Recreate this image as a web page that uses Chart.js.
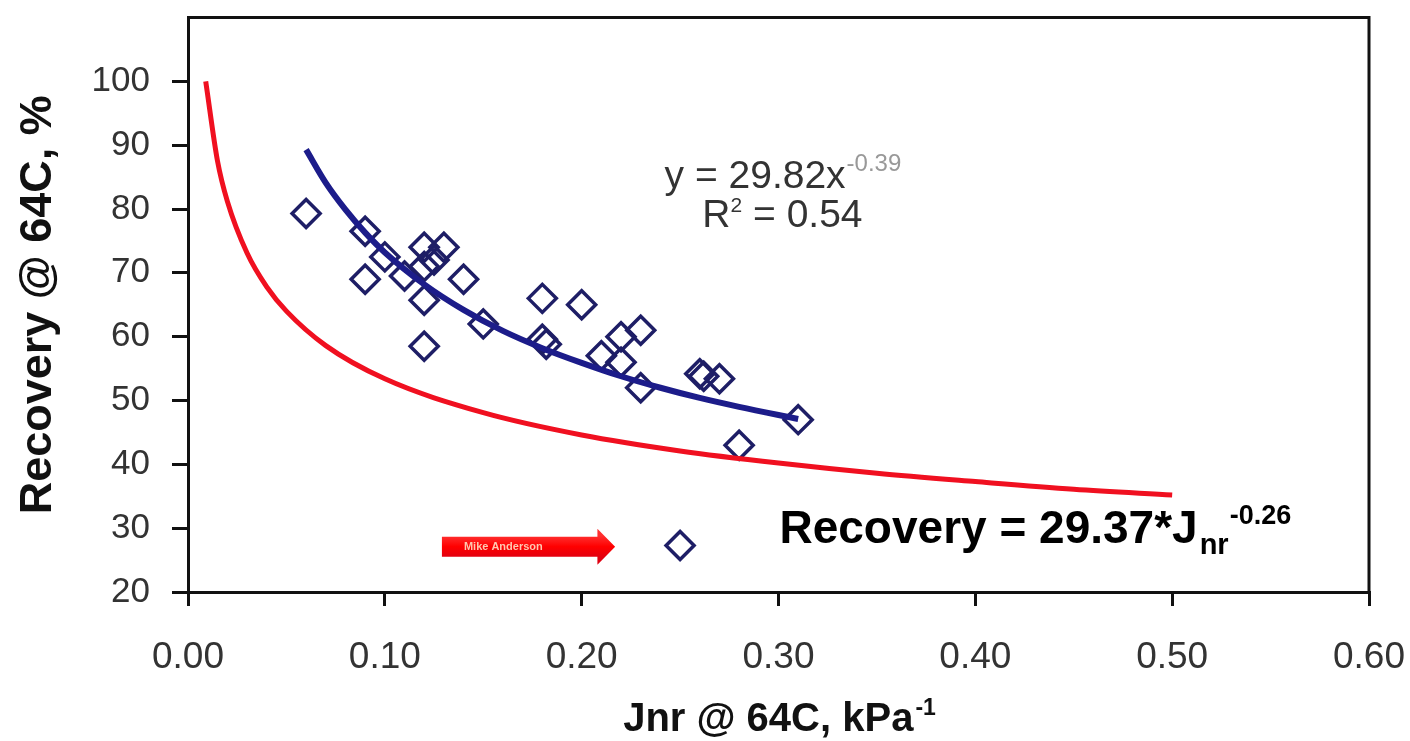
<!DOCTYPE html>
<html>
<head>
<meta charset="utf-8">
<script src="https://cdn.jsdelivr.net/npm/chart.js@4/dist/chart.umd.min.js"></script>
<style>
html,body{margin:0;padding:0;background:#fff;}
#wrap{width:1410px;height:741px;}
</style>
</head>
<body>
<div id="wrap"><canvas id="c" width="1410" height="741"></canvas></div>
<script>
// Measured points (Jnr, Recovery)
const pointJnr = [0.06, 0.09, 0.09, 0.10, 0.11, 0.12, 0.12, 0.125, 0.13, 0.14, 0.12, 0.12, 0.15, 0.18, 0.20, 0.18, 0.182, 0.21, 0.22, 0.23, 0.22, 0.23, 0.26, 0.262, 0.27, 0.31, 0.28, 0.25];
const pointRec = [79.3, 76.5, 69.0, 72.5, 69.5, 74.0, 71.0, 72.0, 74.0, 69.0, 65.7, 58.5, 62.0, 66.0, 65.0, 59.6, 58.8, 57.0, 60.0, 61.0, 56.0, 52.0, 54.2, 53.8, 53.4, 47.0, 43.0, 27.3];
// Fitted trend curve (blue)
const trendJnr = [0.06, 0.07, 0.08, 0.09, 0.10, 0.12, 0.14, 0.16, 0.18, 0.20, 0.22, 0.24, 0.26, 0.28, 0.31];
const trendRec = [89.3, 84.1, 79.9, 76.3, 73.2, 68.2, 64.2, 60.9, 58.2, 55.9, 53.8, 52.0, 50.4, 49.0, 47.1];
// Specification curve (red)
const specJnr = [0.009, 0.015, 0.02, 0.03, 0.04, 0.05, 0.07, 0.10, 0.15, 0.20, 0.25, 0.30, 0.35, 0.40, 0.45, 0.50];
const specRec = [100, 87.5, 81.2, 73.1, 67.8, 64.0, 58.6, 53.4, 48.1, 44.6, 42.1, 40.2, 38.6, 37.3, 36.1, 35.2];
const xTicks = [0.0, 0.1, 0.2, 0.3, 0.4, 0.5, 0.6];
const yTicks = [20, 30, 40, 50, 60, 70, 80, 90, 100];

const FONT = '"Liberation Sans", Arial, Helvetica, sans-serif';
const zip = (a, b) => a.map((v, i) => ({x: v, y: b[i]}));

const decor = {
  id: 'decor',
  afterDraw(chart) {
    const ctx = chart.ctx, ca = chart.chartArea;
    const xs = chart.scales.x, ys = chart.scales.y;
    ctx.save();
    // top and right frame
    ctx.strokeStyle = '#111';
    ctx.lineWidth = 3;
    ctx.beginPath();
    ctx.moveTo(ca.left, ca.top);
    ctx.lineTo(ca.right, ca.top);
    ctx.lineTo(ca.right, ca.bottom);
    ctx.stroke();

    // trend equation
    ctx.fillStyle = '#333';
    ctx.textBaseline = 'alphabetic';
    ctx.textAlign = 'left';
    ctx.font = '39px ' + FONT;
    const eq1 = 'y = 29.82x';
    const w1 = ctx.measureText(eq1).width;
    ctx.font = '24px ' + FONT;
    const sup1 = '-0.39';
    const ws1 = ctx.measureText(sup1).width;
    const cx = xs.getPixelForValue(0.302);
    const x0 = cx - (w1 + ws1) / 2;
    const by = ys.getPixelForValue(83.3);
    ctx.font = '39px ' + FONT;
    ctx.fillText(eq1, x0, by);
    ctx.fillStyle = '#999';
    ctx.font = '24px ' + FONT;
    ctx.fillText(sup1, x0 + w1 + 1, by - 17);
    ctx.fillStyle = '#333';
    ctx.font = '39px ' + FONT;
    const r1 = 'R', r2 = ' = 0.54';
    const wr1 = ctx.measureText(r1).width, wr2 = ctx.measureText(r2).width;
    ctx.font = '21px ' + FONT;
    const wsq = ctx.measureText('2').width;
    const tw = wr1 + wsq + wr2;
    const rx = xs.getPixelForValue(0.302) - tw / 2;
    const ry = ys.getPixelForValue(77.2);
    ctx.font = '39px ' + FONT;
    ctx.fillText(r1, rx, ry);
    ctx.font = '21px ' + FONT;
    ctx.fillText('2', rx + wr1, ry - 15);
    ctx.font = '39px ' + FONT;
    ctx.fillText(r2, rx + wr1 + wsq, ry);

    // specification equation
    ctx.fillStyle = '#000';
    ctx.font = 'bold 46px ' + FONT;
    const s1 = 'Recovery = 29.37*J';
    const sx0 = xs.getPixelForValue(0.3005);
    const sy0 = ys.getPixelForValue(27.6);
    ctx.fillText(s1, sx0, sy0);
    const ws = ctx.measureText(s1).width;
    ctx.font = 'bold 29px ' + FONT;
    ctx.fillText('nr', sx0 + ws + 2, sy0 + 11);
    const wnr = ctx.measureText('nr').width;
    ctx.font = 'bold 27px ' + FONT;
    ctx.fillText('-0.26', sx0 + ws + 2 + wnr + 1, sy0 - 19);

    // red arrow annotation
    const ax0 = xs.getPixelForValue(0.129), ax1 = xs.getPixelForValue(0.208), ax2 = xs.getPixelForValue(0.217);
    const ayc = ys.getPixelForValue(27.1);
    const g = ctx.createLinearGradient(0, ayc - 11, 0, ayc + 11);
    g.addColorStop(0, '#ff3030');
    g.addColorStop(0.5, '#ff0000');
    g.addColorStop(1, '#e00010');
    ctx.fillStyle = g;
    ctx.beginPath();
    ctx.moveTo(ax0, ayc - 10);
    ctx.lineTo(ax1, ayc - 10);
    ctx.lineTo(ax1, ayc - 18);
    ctx.lineTo(ax2, ayc);
    ctx.lineTo(ax1, ayc + 18);
    ctx.lineTo(ax1, ayc + 10);
    ctx.lineTo(ax0, ayc + 10);
    ctx.closePath();
    ctx.fill();
    ctx.fillStyle = '#ffc8b0';
    ctx.font = 'bold 11px ' + FONT;
    ctx.textBaseline = 'middle';
    ctx.fillText('Mike Anderson', ax0 + 22, ayc);

    // axis titles
    ctx.fillStyle = '#111';
    ctx.textBaseline = 'alphabetic';
    ctx.font = 'bold 40px ' + FONT;
    const xt = 'Jnr @ 64C, kPa';
    const wxt = ctx.measureText(xt).width;
    ctx.font = 'bold 23px ' + FONT;
    const wxs = ctx.measureText('-1').width;
    const xtc = (ca.left + ca.right) / 2;
    const xtx = xtc - (wxt + wxs) / 2;
    ctx.font = 'bold 40px ' + FONT;
    ctx.fillText(xt, xtx, 731);
    ctx.font = 'bold 23px ' + FONT;
    ctx.fillText('-1', xtx + wxt + 2, 715);

    ctx.translate(51, (ca.top + ca.bottom) / 2);
    ctx.rotate(-Math.PI / 2);
    ctx.font = 'bold 45px ' + FONT;
    ctx.textAlign = 'center';
    ctx.fillText('Recovery @ 64C, %', 0, 0);
    ctx.restore();
  }
};

function noPad(s) {
  s.paddingTop = 0; s.paddingBottom = 0; s.paddingLeft = 0; s.paddingRight = 0;
}

new Chart(document.getElementById('c'), {
  type: 'scatter',
  data: {
    datasets: [
      {
        label: 'Spec',
        data: zip(specJnr, specRec),
        showLine: true,
        borderColor: '#f01020',
        borderWidth: 5,
        pointRadius: 0,
        cubicInterpolationMode: 'monotone',
        order: 1
      },
      {
        label: 'Trend',
        data: zip(trendJnr, trendRec),
        showLine: true,
        borderColor: '#1c1c8a',
        borderWidth: 6,
        pointRadius: 0,
        cubicInterpolationMode: 'monotone',
        order: 2
      },
      {
        label: 'Data',
        data: zip(pointJnr, pointRec),
        pointStyle: 'rectRot',
        pointRadius: 14,
        pointBorderWidth: 3.5,
        borderColor: '#1e1e66',
        backgroundColor: 'rgba(255,255,255,0)',
        pointBackgroundColor: 'rgba(255,255,255,0)',
        order: 3
      }
    ]
  },
  options: {
    responsive: false,
    animation: false,
    devicePixelRatio: 1,
    layout: {padding: {top: 13, right: 41, left: 0, bottom: 0}},
    plugins: {legend: {display: false}, tooltip: {enabled: false}},
    scales: {
      x: {
        type: 'linear',
        min: xTicks[0],
        max: xTicks[xTicks.length - 1],
        afterFit(s) { s.height = 149; noPad(s); },
        afterBuildTicks(s) { s.ticks = xTicks.map(v => ({value: v})); },
        border: {display: true, color: '#111', width: 3},
        grid: {drawOnChartArea: false, drawTicks: true, tickLength: 14, color: '#111', lineWidth: 3},
        ticks: {
          padding: 30,
          color: '#333',
          font: {family: FONT, size: 37},
          callback: v => Number(v).toFixed(2)
        }
      },
      y: {
        type: 'linear',
        min: 20,
        max: 110,
        afterFit(s) { s.width = 188; noPad(s); },
        afterBuildTicks(s) { s.ticks = yTicks.map(v => ({value: v})); },
        border: {display: true, color: '#111', width: 3},
        grid: {drawOnChartArea: false, drawTicks: true, tickLength: 16, color: '#111', lineWidth: 3},
        ticks: {
          padding: 22,
          color: '#333',
          font: {family: FONT, size: 35},
          callback: v => String(v)
        }
      }
    }
  },
  plugins: [decor]
});
</script>
</body>
</html>
